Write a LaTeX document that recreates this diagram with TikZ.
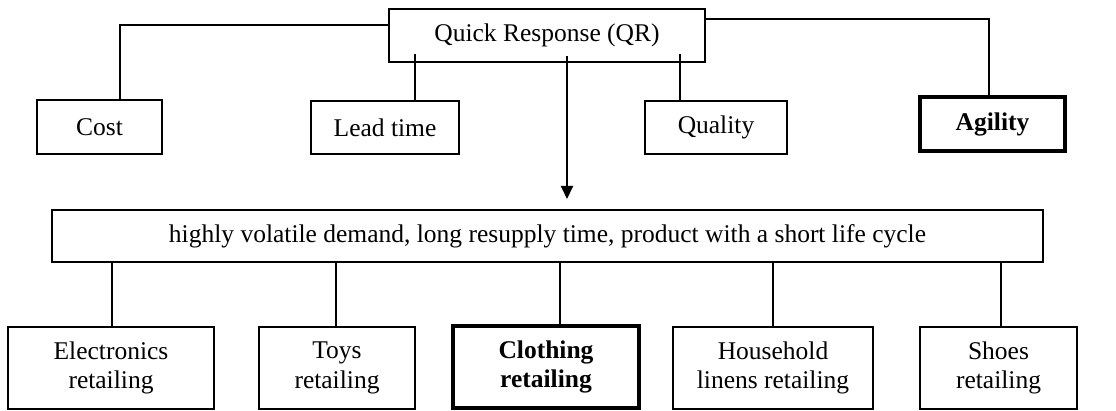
\documentclass[tikz,border=0pt]{standalone}
\usepackage{fontspec}
\setmainfont{Liberation Serif}
\usetikzlibrary{arrows.meta}
\begin{document}
\begin{tikzpicture}[x=1pt,y=-1pt,
  box/.style={draw,line width=2pt,inner sep=0pt,align=center,font=\fontsize{25.5}{29.5}\selectfont},
  bbox/.style={box,line width=4pt,font=\fontsize{25.5}{29.5}\selectfont\bfseries},
  conn/.style={line width=2pt}]
\useasboundingbox (0,0) rectangle (1116,411);
\node[box,minimum width=316pt,minimum height=53pt] (QR) at (547,35.5) {Quick Response (QR)};
\node[box,minimum width=125pt,minimum height=54pt] (Cost) at (99.5,127) {Cost};
\node[box,minimum width=148pt,minimum height=53pt] (Lead) at (385,127.5) {Lead time};
\node[box,minimum width=142pt,minimum height=53pt] (Qual) at (716,127.5) {Quality};
\node[bbox,minimum width=145pt,minimum height=54pt] (Agil) at (992.5,124) {Agility};
\node[box,minimum width=991pt,minimum height=52pt] (Mid) at (547.5,236) {highly volatile demand, long resupply time, product with a short life cycle};
\node[box,minimum width=206pt,minimum height=82pt] (Elec) at (111,368) {Electronics\\retailing};
\node[box,minimum width=156pt,minimum height=82pt] (Toys) at (337,368) {Toys\\retailing};
\node[bbox,minimum width=186pt,minimum height=82pt] (Cloth) at (546,367) {Clothing\\retailing};
\node[box,minimum width=200pt,minimum height=82pt] (House) at (773,368) {Household\\linens retailing};
\node[box,minimum width=157pt,minimum height=82pt] (Shoes) at (998.5,368) {Shoes\\retailing};
\draw[conn] ([yshift=10.5pt]QR.west) -| ([xshift=20.5pt]Cost.north);
\draw[conn] ([xshift=30pt]Lead.north) -- +(0,-46);
\draw[conn] ([xshift=-36pt]Qual.north) -- +(0,-46);
\draw[conn] ([yshift=16pt]QR.east) -| ([xshift=-3.5pt]Agil.north);
\draw[conn,-{Triangle[width=12pt,length=13pt]}] ([xshift=20pt,yshift=7pt]QR.south) -- ([xshift=19.5pt,yshift=10pt]Mid.north);
\draw[conn] ([xshift=1pt]Elec.north) -- ([xshift=1pt]Elec.north |- Mid.south);
\draw[conn] ([xshift=-1pt]Toys.north) -- ([xshift=-1pt]Toys.north |- Mid.south);
\draw[conn] ([xshift=14pt]Cloth.north) -- ([xshift=14pt]Cloth.north |- Mid.south);
\draw[conn] (House.north) -- (House.north |- Mid.south);
\draw[conn] ([xshift=2.5pt]Shoes.north) -- ([xshift=2.5pt]Shoes.north |- Mid.south);
\end{tikzpicture}
\end{document}
